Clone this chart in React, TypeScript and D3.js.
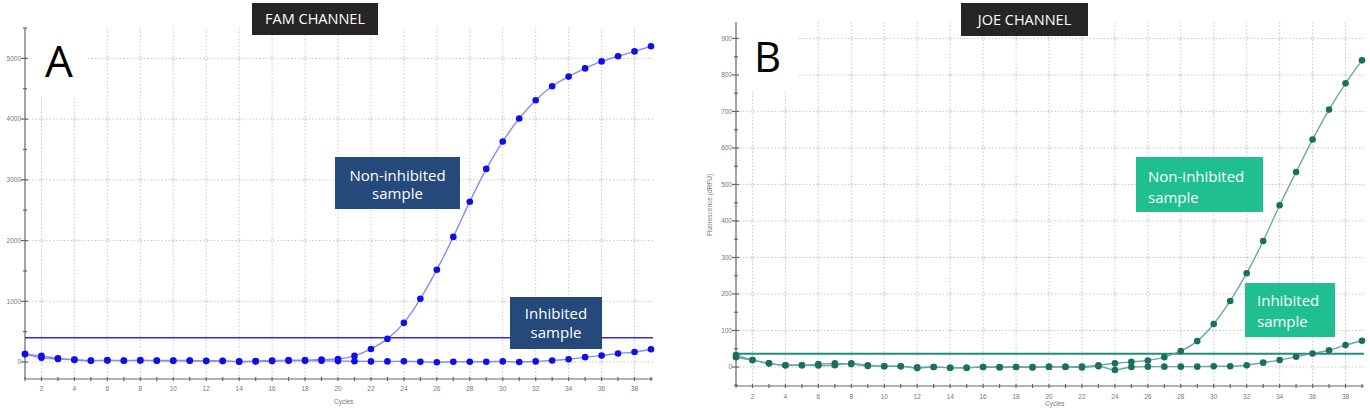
import React, { useRef, useEffect } from 'react';
import * as d3 from 'd3';

// Cycle numbers on the x axis
const cycles = [1, 2, 3, 4, 5, 6, 7, 8, 9, 10, 11, 12, 13, 14, 15, 16, 17, 18, 19, 20,
    21, 22, 23, 24, 25, 26, 27, 28, 29, 30, 31, 32, 33, 34, 35, 36, 37, 38, 39];
const cycleTicks = [2, 4, 6, 8, 10, 12, 14, 16, 18, 20, 22, 24, 26, 28, 30, 32, 34, 36, 38];

// FAM channel fluorescence per cycle
const famNonInhibited = [130, 100, 60, 40, 25, 30, 25, 30, 25, 25, 25, 20, 20, 10, 15, 25, 30, 30, 40, 50,
    100, 215, 380, 645, 1040, 1520, 2060, 2640, 3180, 3630, 4010, 4310, 4540, 4700, 4835, 4950, 5035, 5115, 5200];
const famInhibited = [130, 70, 50, 35, 20, 25, 20, 25, 20, 20, 20, 15, 15, 5, 10, 15, 20, 20, 20, 15,
    12, 10, 10, 12, 5, -5, 5, 5, 5, 10, 0, 10, 25, 45, 80, 105, 140, 165, 210];
const famThreshold = 400;
const famYTicks = [0, 1000, 2000, 3000, 4000, 5000];
const famYMinor = [500, 1500, 2500, 3500, 4500, 5500];

// JOE channel fluorescence per cycle
const joeNonInhibited = [33, 19, 10, 5, 5, 8, 10, 8, 3, 2, 2, -1, 0, -2, -2, 0, -1, 0, 0, 1,
    1, 1, 5, 10, 14, 18, 27, 44, 71, 118, 181, 257, 345, 443, 534, 623, 705, 777, 840];
const joeInhibited = [27, 19, 10, 5, 5, 4, 5, 10, 5, 2, 2, -3, 0, -2, -2, 0, 0, 0, -1, 0,
    0, -1, 2, -8, 0, 1, 1, 1, 1, 2, 2, 5, 12, 19, 28, 37, 46, 60, 72];
const joeThreshold = 36;
const joeYTicks = [0, 100, 200, 300, 400, 500, 600, 700, 800, 900];
const joeYMinor = [-50, 50, 150, 250, 350, 450, 550, 650, 750, 850];

const panels = [
    {
        id: 'fam',
        xRange: [25, 651], yDomain: [-280, 5500], yRange: [379, 28],
        series: [famInhibited, famNonInhibited], threshold: famThreshold,
        yTicks: famYTicks, yMinor: famYMinor,
        lineColor: '#8a8af4', dotColor: '#0e0ee8', thresholdColor: '#2c2cf0', thresholdWidth: 1.4,
        mask: { x: 26, y: 27, w: 62, h: 69 },
        letter: { text: 'A', x: 45, y: 77, size: 44 },
        title: { text: 'FAM CHANNEL', x: 252, y: 3, w: 126, h: 32 },
        boxColor: '#24497a',
        boxes: [
            { lines: ['Non-inhibited', 'sample'], x: 335, y: 157, w: 125, h: 52, anchor: 'middle', base: [181, 199] },
            { lines: ['Inhibited', 'sample'], x: 510, y: 297, w: 92, h: 52, anchor: 'middle', base: [319, 338] },
        ],
        labelOffset: 10, cyclesPos: [334, 404],
    },
    {
        id: 'joe',
        xRange: [736, 1362], yDomain: [-52, 945], yRange: [386, 22],
        series: [joeInhibited, joeNonInhibited], threshold: joeThreshold,
        yTicks: joeYTicks, yMinor: joeYMinor,
        lineColor: '#6aa99c', dotColor: '#1b6f60', thresholdColor: '#1f8f7a', thresholdWidth: 2,
        mask: { x: 737, y: 21, w: 60, h: 71 },
        letter: { text: 'B', x: 754, y: 72, size: 42 },
        title: { text: 'JOE CHANNEL', x: 961, y: 3, w: 127, h: 33 },
        boxColor: '#1fbf8f',
        boxes: [
            { lines: ['Non-inhibited', 'sample'], x: 1136, y: 157, w: 127, h: 55, anchor: 'start', base: [182, 203] },
            { lines: ['Inhibited', 'sample'], x: 1245, y: 283, w: 90, h: 54, anchor: 'start', base: [306, 327] },
        ],
        labelOffset: 11, cyclesPos: [1045, 406], yTitle: { text: 'Fluorescence (dRFU)', x: 712, y: 205 },
    },
];

const drawPanel = (svg, cfg) => {
    const g = svg.append('g').attr('class', cfg.id);
    const x = d3.scaleLinear().domain([1, 39]).range(cfg.xRange);
    const y = d3.scaleLinear().domain(cfg.yDomain).range(cfg.yRange);
    const [x0, x1] = cfg.xRange;
    const yBottom = cfg.yRange[0], yTop = cfg.yRange[1];

    // dotted grid
    const grid = g.append('g').attr('stroke', '#c9c9c9').attr('stroke-dasharray', '1.5,2').attr('stroke-width', 1);
    grid.selectAll('.vgrid').data(cycleTicks).enter().append('line')
        .attr('x1', d => x(d)).attr('x2', d => x(d)).attr('y1', yTop).attr('y2', yBottom);
    grid.selectAll('.hgrid').data(cfg.yTicks).enter().append('line')
        .attr('x1', x0).attr('x2', x1 + 2).attr('y1', d => y(d)).attr('y2', d => y(d));

    // small rings where grid lines cross
    const rings = [];
    cycleTicks.forEach(c => cfg.yTicks.forEach(v => rings.push([c, v])));
    g.append('g').selectAll('circle').data(rings).enter().append('circle')
        .attr('cx', d => x(d[0])).attr('cy', d => y(d[1])).attr('r', 1.6)
        .attr('fill', 'none').attr('stroke', '#e0e0e0').attr('stroke-width', 0.8);

    // white patch behind the panel letter
    g.append('rect').attr('x', cfg.mask.x).attr('y', cfg.mask.y)
        .attr('width', cfg.mask.w).attr('height', cfg.mask.h).attr('fill', '#fff');

    // axes
    const axis = g.append('g').attr('stroke', '#666').attr('stroke-width', 1.2);
    axis.append('line').attr('x1', x0).attr('x2', x0).attr('y1', yTop).attr('y2', yBottom);
    axis.append('line').attr('x1', x0).attr('x2', x1 + 2).attr('y1', yBottom).attr('y2', yBottom);
    axis.selectAll('.ymaj').data(cfg.yTicks).enter().append('line')
        .attr('x1', x0 - 4).attr('x2', x0 + 3).attr('y1', d => y(d)).attr('y2', d => y(d));
    axis.selectAll('.ymin').data(cfg.yMinor.filter(v => y(v) >= yTop && y(v) <= yBottom)).enter().append('line')
        .attr('x1', x0 - 2).attr('x2', x0 + 2).attr('y1', d => y(d)).attr('y2', d => y(d));
    axis.selectAll('.xt').data(cycles).enter().append('line')
        .attr('x1', d => x(d)).attr('x2', d => x(d)).attr('y1', yBottom - 2).attr('y2', yBottom + 2);

    const labels = g.append('g').attr('fill', '#777').style('font-family', 'Liberation Sans, sans-serif').style('font-size', '6.5px');
    labels.selectAll('.yl').data(cfg.yTicks).enter().append('text')
        .attr('x', x0 - 4).attr('y', d => y(d)).attr('dy', '0.35em').attr('text-anchor', 'end').text(d => d);
    labels.selectAll('.xl').data(cycleTicks).enter().append('text')
        .attr('x', d => x(d)).attr('y', yBottom + cfg.labelOffset).attr('dy', '0.35em').attr('text-anchor', 'middle').text(d => d);
    labels.append('text').attr('x', cfg.cyclesPos[0]).attr('y', cfg.cyclesPos[1]).text('Cycles');
    if (cfg.yTitle) {
        labels.append('text').attr('transform', `translate(${cfg.yTitle.x},${cfg.yTitle.y}) rotate(-90)`)
            .attr('text-anchor', 'middle').text(cfg.yTitle.text);
    }

    // threshold
    g.append('line').attr('x1', x0).attr('x2', x1 + 2)
        .attr('y1', y(cfg.threshold)).attr('y2', y(cfg.threshold))
        .attr('stroke', cfg.thresholdColor).attr('stroke-width', cfg.thresholdWidth);

    // amplification curves
    const line = d3.line().x((d, i) => x(cycles[i])).y(d => y(d)).curve(d3.curveMonotoneX);
    cfg.series.forEach(values => {
        g.append('path').attr('d', line(values)).attr('fill', 'none')
            .attr('stroke', cfg.lineColor).attr('stroke-width', 1.4);
        g.append('g').selectAll('circle').data(values).enter().append('circle')
            .attr('cx', (d, i) => x(cycles[i])).attr('cy', d => y(d)).attr('r', 3.3)
            .attr('fill', cfg.dotColor);
    });

    // panel letter and channel title
    g.append('text').attr('x', cfg.letter.x).attr('y', cfg.letter.y).text(cfg.letter.text)
        .style('font-family', 'Open Sans, sans-serif').style('font-size', cfg.letter.size + 'px').attr('fill', '#000');
    g.append('rect').attr('x', cfg.title.x).attr('y', cfg.title.y).attr('width', cfg.title.w).attr('height', cfg.title.h)
        .attr('fill', '#252525');
    g.append('text').attr('x', cfg.title.x + cfg.title.w / 2).attr('y', cfg.title.y + cfg.title.h / 2)
        .attr('dy', '0.36em').attr('text-anchor', 'middle').attr('fill', '#fff').text(cfg.title.text)
        .style('font-family', 'Open Sans, sans-serif').style('font-size', '14.5px');

    // sample call-outs
    cfg.boxes.forEach(b => {
        g.append('rect').attr('x', b.x).attr('y', b.y).attr('width', b.w).attr('height', b.h).attr('fill', cfg.boxColor);
        b.lines.forEach((t, i) => {
            g.append('text').attr('x', b.anchor === 'middle' ? b.x + b.w / 2 : b.x + 12).attr('y', b.base[i])
                .attr('text-anchor', b.anchor).attr('fill', '#fff').text(t)
                .style('font-family', 'Open Sans, sans-serif').style('font-size', '15px');
        });
    });
};

const App = () => {
    const svgRef = useRef();

    useEffect(() => {
        document.body.style.margin = '0';
        const svg = d3.select(svgRef.current);
        svg.selectAll('*').remove();
        panels.forEach(p => drawPanel(svg, p));
    }, []);

    return (
        <svg ref={svgRef} width={1370} height={408}
            style={{ position: 'absolute', left: 0, top: 0, background: '#fff', display: 'block' }} />
    );
};

export default App;
